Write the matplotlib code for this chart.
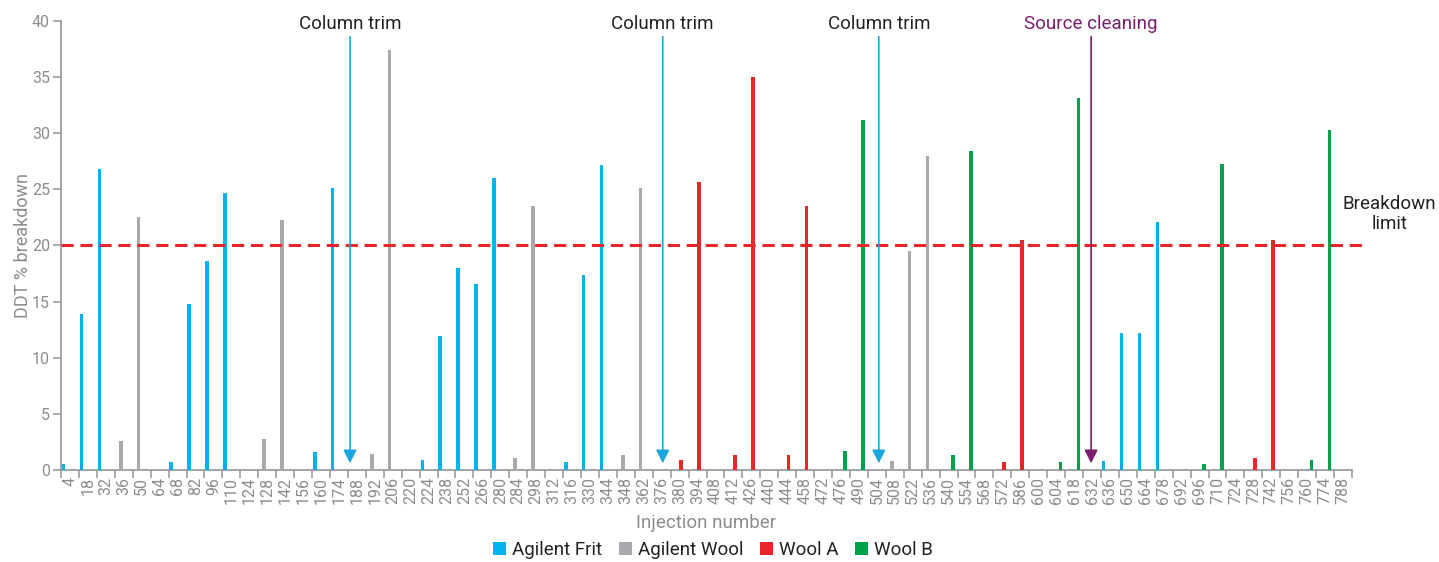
import numpy as np
import matplotlib.pyplot as plt

plt.rcParams['font.family'] = ['Roboto', 'DejaVu Sans']

# Categorías del eje x (número de inyección)
injections = [4, 18, 32, 36, 50, 64, 68, 82, 96, 110, 124, 128, 142, 156, 160,
              174, 188, 192, 206, 220, 224, 238, 252, 266, 280, 284, 298, 312,
              316, 330, 344, 348, 362, 376, 380, 394, 408, 412, 426, 440, 444,
              458, 472, 476, 490, 504, 508, 522, 536, 540, 554, 568, 572, 586,
              600, 604, 618, 632, 636, 650, 664, 678, 692, 696, 710, 724, 728,
              742, 756, 760, 774, 788]

# Series
frit_inj = [4, 18, 32, 68, 82, 96, 110, 160, 174, 224, 238, 252, 266, 280,
            316, 330, 344, 636, 650, 664, 678]
frit_val = [0.5, 13.9, 26.8, 0.7, 14.8, 18.6, 24.7, 1.6, 25.1, 0.9, 11.9, 18.0,
            16.6, 26.0, 0.7, 17.4, 27.2, 0.8, 12.2, 12.2, 22.1]

wool_inj = [36, 50, 128, 142, 192, 206, 284, 298, 348, 362, 508, 522, 536]
wool_val = [2.6, 22.5, 2.8, 22.3, 1.4, 37.4, 1.1, 23.5, 1.3, 25.1, 0.8, 19.5, 28.0]

woolA_inj = [380, 394, 412, 426, 444, 458, 572, 586, 728, 742]
woolA_val = [0.9, 25.7, 1.3, 35.0, 1.3, 23.5, 0.7, 20.5, 1.1, 20.5]

woolB_inj = [476, 490, 540, 554, 604, 618, 696, 710, 760, 774]
woolB_val = [1.7, 31.2, 1.3, 28.4, 0.7, 33.1, 0.5, 27.3, 0.9, 30.3]

# Eventos marcados con flechas
event_inj = [188, 376, 504, 632]
event_txt = ['Column trim', 'Column trim', 'Column trim', 'Source cleaning']

limite = 20

# Estilos
series = [
    ('Agilent Frit', frit_inj, frit_val, '#00B2EE', -0.35),
    ('Agilent Wool', wool_inj, wool_val, '#A7A9AC', -0.17),
    ('Wool A', woolA_inj, woolA_val, '#E8262A', 0.08),
    ('Wool B', woolB_inj, woolB_val, '#00A14B', 0.24),
]
event_col = ['#1AA7E0', '#1AA7E0', '#1AA7E0', '#7B1E6E']
event_off = [-0.38, 0.06, 0.11, -0.05]
gris = '#8A8C8F'

fig = plt.figure(figsize=(14.39, 5.62), dpi=100)
ax = fig.add_axes([61/1439, 1 - 470/562, (1352 - 61)/1439, (470 - 21)/562])

pos = {inj: i for i, inj in enumerate(injections)}

for nombre, inj, val, col, off in series:
    x = np.array([pos[k] for k in inj]) + off
    ax.bar(x, val, width=0.2, color=col, label=nombre, zorder=3)

# Línea límite
ax.plot([-0.5, 72.1], [limite, limite], ls=(0, (4, 2.2)), color='#E8262A',
        lw=2.2, clip_on=False, zorder=4)
ax.text(73.6, 22.8, 'Breakdown\nlimit', ha='center', va='center',
        fontsize=13.5, color='#222222', linespacing=1.15)

# Flechas de eventos
for inj, txt, col, off in zip(event_inj, event_txt, event_col, event_off):
    xe = pos[inj] + off
    ax.annotate('', xy=(xe, 0.6), xytext=(xe, 38.6),
                arrowprops=dict(arrowstyle='-|>', color=col, lw=1.2,
                                mutation_scale=20, shrinkA=0, shrinkB=0),
                zorder=5)
    tcol = col if txt == 'Source cleaning' else '#222222'
    ax.text(xe, 39.75, txt, ha='center', va='center', fontsize=13.5, color=tcol)

# Ejes
ax.set_xlim(-0.5, len(injections) - 0.5)
ax.set_ylim(0, 40)
ax.set_yticks(np.arange(0, 41, 5))
ax.set_xticks(np.arange(len(injections)))
ax.set_xticklabels([str(k) for k in injections], rotation=90)
ax.set_xticks(np.arange(len(injections) + 1) - 0.5, minor=True)
ax.tick_params(axis='x', which='major', length=0, pad=5, labelsize=11.5,
               labelcolor=gris)
ax.tick_params(axis='x', which='minor', length=6, width=1.2, color='#9A9C9F')
ax.tick_params(axis='y', length=6, width=1.2, color='#9A9C9F', labelsize=11.5,
               labelcolor=gris, pad=2)

for s in ['top', 'right']:
    ax.spines[s].set_visible(False)
for s in ['left', 'bottom']:
    ax.spines[s].set_color('#9A9C9F')
    ax.spines[s].set_linewidth(1.3)

ax.set_ylabel('DDT % breakdown', fontsize=13, color=gris, labelpad=0)
ax.set_xlabel('Injection number', fontsize=13.5, color=gris, labelpad=7)

ax.legend(loc='center', bbox_to_anchor=(713/1439, 1 - 550/562),
          bbox_transform=fig.transFigure, ncol=4,
          frameon=False, fontsize=13.5, handlelength=0.7, handleheight=0.7,
          handletextpad=0.3, columnspacing=0.9, labelcolor='#222222')

fig.savefig('out.png', dpi=100)
